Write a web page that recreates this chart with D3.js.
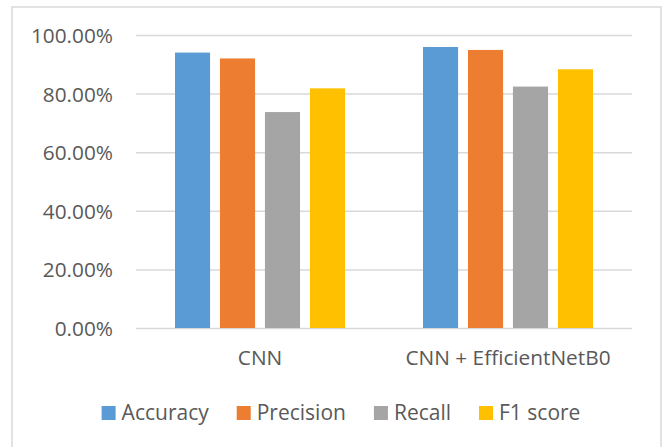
<!DOCTYPE html>
<html>
<head>
<meta charset="utf-8">
<script src="https://cdn.jsdelivr.net/npm/d3@7"></script>
<style>
  html, body { margin: 0; padding: 0; background: #fff; }
  svg { display: block; }
  text { font-family: "Open Sans", "Noto Sans", sans-serif; fill: #595959; }
</style>
</head>
<body>
<svg id="chart" width="669" height="447"></svg>
<script>
// Model comparison data
const categories = ["CNN", "CNN + EfficientNetB0"];
const seriesNames = ["Accuracy", "Precision", "Recall", "F1 score"];
const accuracy  = [0.940, 0.959];
const precision = [0.920, 0.949];
const recall    = [0.737, 0.824];
const f1score   = [0.818, 0.883];
const yTicks = [0, 0.2, 0.4, 0.6, 0.8, 1.0];
const colors = ["#5b9bd5", "#ed7d31", "#a5a5a5", "#ffc000"];

const seriesValues = [accuracy, precision, recall, f1score];

const svg = d3.select("#chart");
const plot = { left: 136, right: 632, top: 35, bottom: 328 };

// Chart area frame
svg.append("rect")
  .attr("x", 12).attr("y", 7)
  .attr("width", 649).attr("height", 450)
  .attr("fill", "#fff")
  .attr("stroke", "#d9d9d9")
  .attr("stroke-width", 1.5);

const y = d3.scaleLinear().domain([0, 1]).range([plot.bottom, plot.top]);
const x0 = d3.scaleBand().domain(categories).range([plot.left, plot.right]).padding(0);
const groupPad = 39;
const x1 = d3.scaleBand().domain(seriesNames)
  .range([groupPad, x0.bandwidth() - groupPad])
  .paddingInner(0.22).paddingOuter(0);

// Horizontal gridlines and value axis labels
const yAxis = d3.axisLeft(y)
  .tickValues(yTicks)
  .tickSize(-(plot.right - plot.left))
  .tickPadding(23)
  .tickFormat(d3.format(".2%"));

const gy = svg.append("g")
  .attr("transform", `translate(${plot.left},0)`)
  .call(yAxis);
gy.select(".domain").remove();
gy.selectAll(".tick line").attr("stroke", "#d9d9d9").attr("stroke-width", 1.5);
gy.selectAll(".tick text")
  .attr("font-size", 20.8)
  .attr("fill", "#595959")
  .attr("font-family", '"Open Sans", "Noto Sans", sans-serif')
  .attr("dy", "0.36em");

// Bars
const rows = categories.map((c, i) => ({
  category: c,
  values: seriesNames.map((s, j) => ({ series: s, value: seriesValues[j][i], color: colors[j] }))
}));

const groups = svg.append("g").selectAll("g")
  .data(rows).join("g")
  .attr("transform", d => `translate(${x0(d.category)},0)`);

groups.selectAll("rect")
  .data(d => d.values).join("rect")
  .attr("x", d => x1(d.series))
  .attr("width", x1.bandwidth())
  .attr("y", d => y(d.value))
  .attr("height", d => y(0) - y(d.value))
  .attr("fill", d => d.color);

// Category axis labels
const xAxis = d3.axisBottom(x0).tickSize(0).tickPadding(22);
const gx = svg.append("g")
  .attr("transform", `translate(0,${plot.bottom})`)
  .call(xAxis);
gx.select(".domain").remove();
gx.selectAll(".tick text")
  .attr("font-size", 20.8)
  .attr("fill", "#595959")
  .attr("font-family", '"Open Sans", "Noto Sans", sans-serif');

// Legend
const legend = svg.append("g");
const sw = 14, gapText = 6, gapItem = 28, fs = 21;
const items = legend.selectAll("g").data(seriesNames).join("g");
items.append("rect")
  .attr("width", sw).attr("height", sw)
  .attr("y", 406)
  .attr("fill", (d, i) => colors[i]);
items.append("text")
  .attr("x", sw + gapText)
  .attr("y", 419.5)
  .attr("font-size", fs)
  .text(d => d);

let cursor = 0;
const offsets = [];
items.each(function() {
  const w = this.querySelector("text").getComputedTextLength();
  offsets.push(cursor);
  cursor += sw + gapText + w + gapItem;
});
const total = cursor - gapItem;
const startX = 341 - total / 2;
items.attr("transform", (d, i) => `translate(${startX + offsets[i]},0)`);
</script>
</body>
</html>
